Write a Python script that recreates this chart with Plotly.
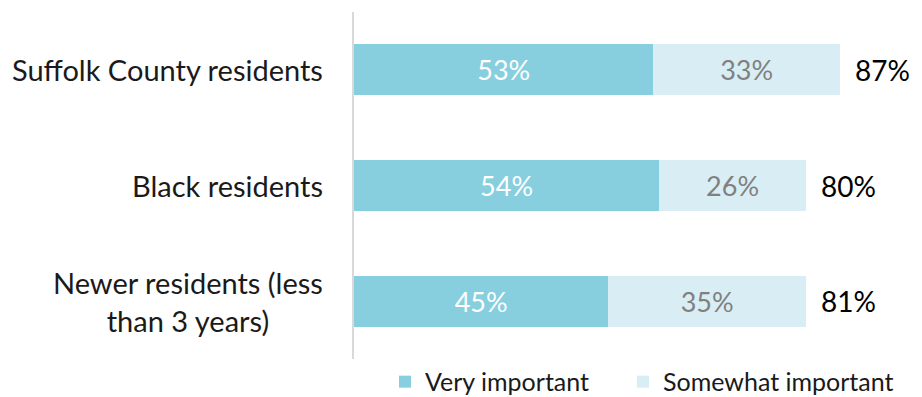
import plotly.graph_objects as go

categories = ["Suffolk County residents", "Black residents", "Newer residents (less<br>than 3 years)"]
very_important = [53, 54, 45]
somewhat_important = [33, 26, 35]
totals = [87, 80, 81]
series_names = ["Very important", "Somewhat important"]

FONT = "Lato"
c_very = "#87CFDE"
c_some = "#D8EEF4"

ypos = list(range(len(categories)))

fig = go.Figure()
fig.add_trace(go.Bar(
    y=ypos, x=very_important, orientation="h", name=series_names[0],
    marker=dict(color=c_very, line=dict(width=0)),
    text=[f"{v}%" for v in very_important], textposition="inside",
    insidetextanchor="middle",
    textfont=dict(color="white", size=27, family=FONT),
    width=0.44, hoverinfo="skip", legend="legend",
))
fig.add_trace(go.Bar(
    y=ypos, x=somewhat_important, orientation="h", name=series_names[1],
    marker=dict(color=c_some, line=dict(width=0)),
    text=[f"{v}%" for v in somewhat_important], textposition="inside",
    insidetextanchor="middle",
    textfont=dict(color="#808080", size=27, family=FONT),
    width=0.44, hoverinfo="skip", legend="legend2",
))

for i, (v, s, t) in enumerate(zip(very_important, somewhat_important, totals)):
    fig.add_annotation(x=v + s, y=i, xref="x", yref="y", text=f"{t}%",
                       showarrow=False, xanchor="left", xshift=13,
                       font=dict(size=28, color="black", family=FONT))

for i, c in enumerate(categories):
    fig.add_annotation(x=0, y=i, xref="paper", yref="y", text=c,
                       showarrow=False, xanchor="right", xshift=-29, align="center",
                       font=dict(size=29, color="#1a1a1a", family=FONT))

leg_common = dict(orientation="h", xanchor="left", yref="container", y=0.038,
                  yanchor="middle", xref="container",
                  font=dict(size=25, family=FONT, color="#1a1a1a"),
                  bgcolor="rgba(0,0,0,0)")

fig.update_layout(
    width=922, height=397,
    margin=dict(l=354, r=3, t=12, b=38, autoexpand=False),
    barmode="stack",
    plot_bgcolor="white", paper_bgcolor="white",
    font=dict(family=FONT, size=25, color="#1a1a1a"),
    showlegend=True,
    legend=dict(x=385 / 922, **leg_common),
    legend2=dict(x=623 / 922, **leg_common),
    xaxis=dict(range=[0, 100], showgrid=False, zeroline=False, showticklabels=False,
               showline=False, fixedrange=True),
    yaxis=dict(range=[2.5, -0.5], showgrid=False, zeroline=False, showticklabels=False,
               showline=True, linecolor="#D9D9D9", linewidth=2, fixedrange=True),
)

fig.write_html("out.html", config={"displayModeBar": False},
               post_script="document.body.style.margin='0';")
